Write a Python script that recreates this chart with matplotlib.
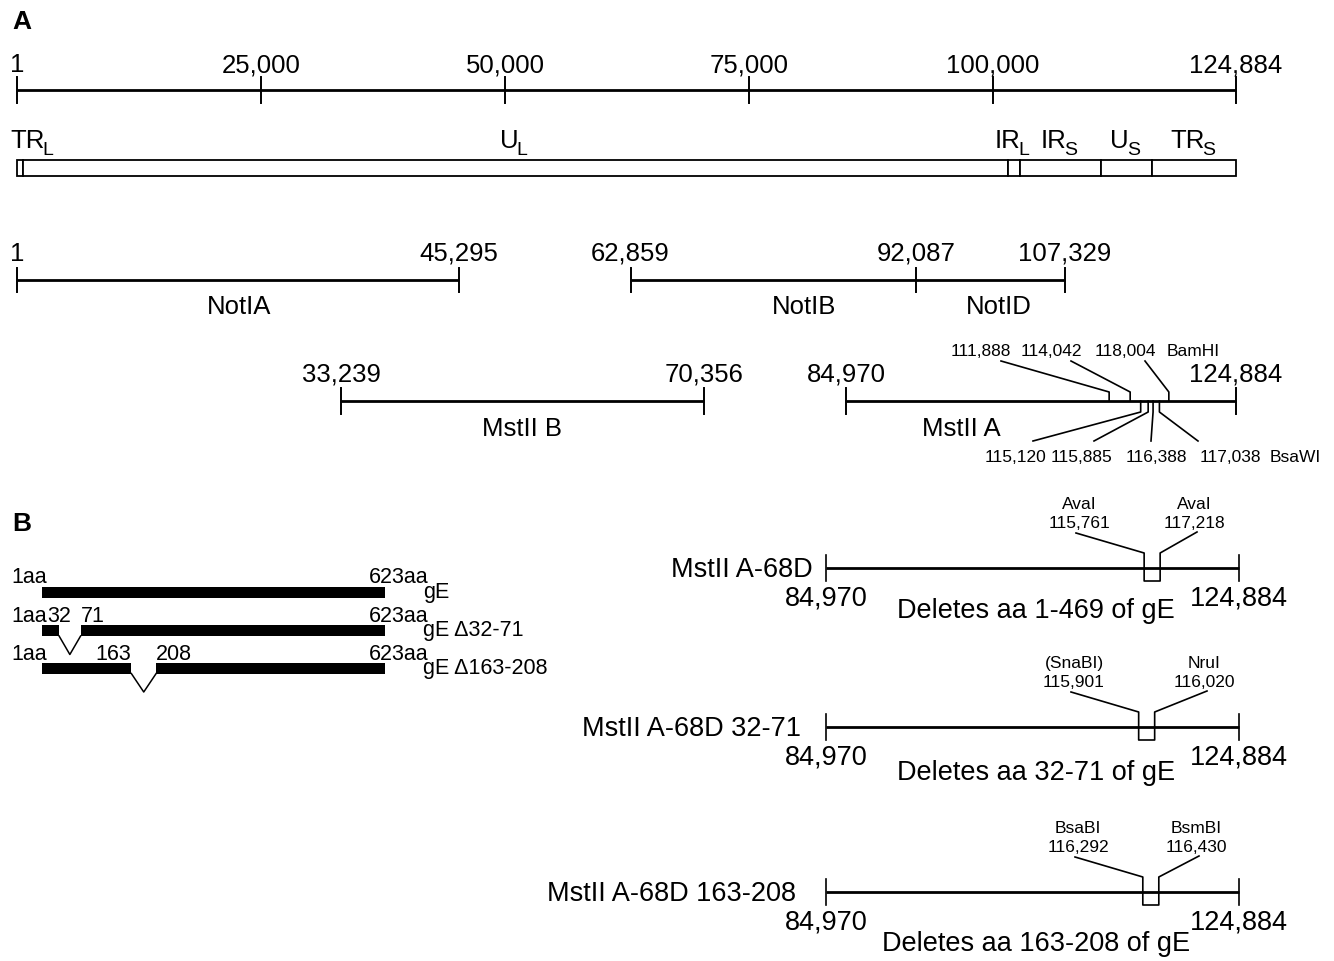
import matplotlib
matplotlib.use("Agg")
import matplotlib.pyplot as plt
from matplotlib import font_manager
from matplotlib.patches import Rectangle

plt.rcParams['font.family'] = ['Liberation Sans', 'DejaVu Sans']

# condensed face for the small site labels if one is installed
_names = {f.name for f in font_manager.fontManager.ttflist}
if 'Liberation Sans Narrow' in _names:
    SITE_FONT, SITE_FS = ['Liberation Sans Narrow', 'Liberation Sans'], 14.4
else:
    SITE_FONT, SITE_FS = ['Liberation Sans', 'DejaVu Sans'], 12.5

W, H = 1334, 962

# ---- panel A: genome map
ruler_ticks = [1, 25000, 50000, 75000, 100000, 124884]
region_names = ['TR', 'U', 'IR', 'IR', 'U', 'TR']
region_subs = ['L', 'L', 'L', 'S', 'S', 'S']
region_edges = [1, 650, 101560, 102760, 111030, 116320, 124884]

noti_names = ['NotIA', 'NotIB', 'NotID']
noti_start = [1, 62859, 92087]
noti_end = [45295, 92087, 107329]

mstii_names = ['MstII B', 'MstII A']
mstii_start = [33239, 84970]
mstii_end = [70356, 124884]

bamhi_sites = [111888, 114042, 118004]
bsawi_sites = [115120, 115885, 116388, 117038]

# ---- panel B: gE constructs
ge_names = ['gE', 'gE \u039432-71', 'gE \u0394163-208']
ge_len = 623
ge_del = [None, (32, 71), (163, 208)]

mut_names = ['MstII A-68D', 'MstII A-68D 32-71', 'MstII A-68D 163-208']
mut_start = 84970
mut_end = 124884
mut_enz_left = ['AvaI', '(SnaBI)', 'BsaBI']
mut_site_left = [115761, 115901, 116292]
mut_enz_right = ['AvaI', 'NruI', 'BsmBI']
mut_site_right = [117218, 116020, 116430]
mut_aa = ['1-469', '32-71', '163-208']

fig = plt.figure(figsize=(W / 100, H / 100), dpi=100)


def layer(v0, v1, p0, p1):
    # full-figure axes; x in data units mapped v0->p0 px, v1->p1 px; y in px from top
    ax = fig.add_axes([0, 0, 1, 1])
    s = (p1 - p0) / (v1 - v0)
    ax.set_xlim(v0 - p0 / s, v0 + (W - p0) / s)
    ax.set_ylim(H, 0)
    ax.axis('off')
    return ax


def dx(ax, px):
    x0, x1 = ax.get_xlim()
    return x0 + (x1 - x0) * px / W


def pxof(ax, v):
    x0, x1 = ax.get_xlim()
    return (v - x0) / (x1 - x0) * W


ax0 = layer(0, W, 0, W)
axA = layer(1, 124884, 17, 1236)
axB = layer(mut_start, mut_end, 826, 1239)
axP = layer(1, ge_len, 42, 385)

k = 'black'
ax0.text(12, 29, 'A', fontsize=19, fontweight='bold', va='baseline')
ax0.text(12, 531, 'B', fontsize=19, fontweight='bold', va='baseline')

# ruler
axA.plot([ruler_ticks[0], ruler_ticks[-1]], [91, 91], color=k, lw=2.0, solid_capstyle='butt')
for t in ruler_ticks:
    axA.plot([t, t], [78, 104], color=k, lw=1.4)
    axA.text(t, 72, f'{t:,}', ha='center', va='baseline', fontsize=18.5)

# genome regions
for i, name in enumerate(region_names):
    e0, e1 = region_edges[i], region_edges[i + 1]
    axA.add_patch(Rectangle((e0, 161), e1 - e0, 16, fc='white', ec=k, lw=1.3))
    if i == 0:
        t = ax0.text(10, 148, name, ha='left', va='baseline', fontsize=18.5)
    else:
        cx = pxof(axA, (e0 + e1) / 2) - 7
        t = ax0.text(cx, 148, name, ha='center', va='baseline', fontsize=18.5)
    ax0.annotate(region_subs[i], xy=(1, 0), xycoords=t, xytext=(-2, -2),
                 textcoords='offset pixels', ha='left', va='baseline', fontsize=14)

# NotI fragments
noti_y = 281
noti_lab_x = [239, 804, 999]
for i, name in enumerate(noti_names):
    axA.plot([noti_start[i], noti_end[i]], [noti_y, noti_y], color=k, lw=2.0, solid_capstyle='butt')
    ax0.text(noti_lab_x[i], noti_y + 33, name, ha='center', va='baseline', fontsize=18.5)
for t in sorted(set(noti_start + noti_end)):
    axA.plot([t, t], [noti_y - 12, noti_y + 12], color=k, lw=1.4)
    axA.text(t, noti_y - 20, f'{t:,}', ha='center', va='baseline', fontsize=18.5)

# MstII fragments
ms_y = 402
ms_lab_x = [522, 961]
for i, name in enumerate(mstii_names):
    axA.plot([mstii_start[i], mstii_end[i]], [ms_y, ms_y], color=k, lw=2.0, solid_capstyle='butt')
    ax0.text(ms_lab_x[i], ms_y + 34, name, ha='center', va='baseline', fontsize=18.5)
for t in mstii_start + mstii_end:
    axA.plot([t, t], [ms_y - 13, ms_y + 13], color=k, lw=1.4)
    axA.text(t, ms_y - 20, f'{t:,}', ha='center', va='baseline', fontsize=18.5)

# BamHI sites (above) and BsaWI sites (below)
top_lab_x = [981, 1051, 1125]
for s, lx in zip(bamhi_sites, top_lab_x):
    axA.plot([dx(axA, lx + 20), s, s], [362, 393, ms_y], color=k, lw=1.2)
    ax0.text(lx, 356, f'{s:,}', ha='center', va='baseline', fontsize=SITE_FS, family=SITE_FONT)
ax0.text(1167, 356, 'BamHI', ha='left', va='baseline', fontsize=SITE_FS, family=SITE_FONT)

bot_lab_x = [1015, 1082, 1156, 1230]
bot_end_x = [1033, 1094, 1151, 1198]
for s, lx, ex in zip(bsawi_sites, bot_lab_x, bot_end_x):
    axA.plot([s, s, dx(axA, ex)], [ms_y, 413, 442], color=k, lw=1.2)
    ax0.text(lx, 462, f'{s:,}', ha='center', va='baseline', fontsize=SITE_FS, family=SITE_FONT)
ax0.text(1270, 462, 'BsaWI', ha='left', va='baseline', fontsize=SITE_FS, family=SITE_FONT)

# ---- panel B left: gE protein
ge_y = [593.5, 631.5, 669]
ge_lab_base = [583, 622, 660]
del_ha = [None, ('center', 'left'), ('right', 'left')]
for i, name in enumerate(ge_names):
    y = ge_y[i]
    d = ge_del[i]
    segs = [(1, ge_len)] if d is None else [(1, d[0]), (d[1], ge_len)]
    axP.broken_barh([(a, b - a) for a, b in segs], (y - 5.5, 11), facecolors=k)
    if d is not None:
        axP.plot([d[0], (d[0] + d[1]) / 2, d[1]], [y + 5.5, y + 24, y + 5.5], color=k, lw=1.1)
        axP.text(d[0], ge_lab_base[i], str(d[0]), ha=del_ha[i][0], va='baseline', fontsize=15.5)
        axP.text(d[1], ge_lab_base[i], str(d[1]), ha=del_ha[i][1], va='baseline', fontsize=15.5)
    ax0.text(11, ge_lab_base[i], '1aa', ha='left', va='baseline', fontsize=15.5)
    ax0.text(428, ge_lab_base[i], f'{ge_len}aa', ha='right', va='baseline', fontsize=15.5)
    ax0.text(423, y + 5, name, ha='left', va='baseline', fontsize=15.5)

# ---- panel B right: MstII A-68D constructs
mut_y = [569, 728, 893]
mut_name_x = [813, 801, 796]
del_dy = [49, 52, 58]
lab_lx = [1079, 1074, 1078]
lab_rx = [1194, 1204, 1196]
x0, x1 = axB.get_xlim()
bp_per_px = (x1 - x0) / W
for i, name in enumerate(mut_names):
    y = mut_y[i]
    axB.plot([mut_start, mut_end], [y, y], color=k, lw=2.0, solid_capstyle='butt')
    for t in (mut_start, mut_end):
        axB.plot([t, t], [y - 13, y + 13], color=k, lw=1.2)
    axB.text(mut_start, y + 37, f'{mut_start:,}', ha='center', va='baseline', fontsize=19.5)
    axB.text(mut_end, y + 37, f'{mut_end:,}', ha='center', va='baseline', fontsize=19.5)
    ax0.text(mut_name_x[i], y + 8, name, ha='right', va='baseline', fontsize=19.5)
    ax0.text(1036, y + del_dy[i], f'Deletes aa {mut_aa[i]} of gE', ha='center', va='baseline', fontsize=19.5)

    lo, hi = mut_site_left[i], mut_site_right[i]
    mid = (lo + hi) / 2
    half = max((hi - lo) / 2, 8 * bp_per_px)
    bl, br = mid - half, mid + half
    axB.plot([dx(axB, lab_lx[i] - 3), bl, bl, br, br, dx(axB, lab_rx[i] + 3)],
             [y - 35, y - 15, y + 13, y + 13, y - 15, y - 36], color=k, lw=1.2)
    for lx, enz, pos in ((lab_lx[i], mut_enz_left[i], lo), (lab_rx[i], mut_enz_right[i], hi)):
        ax0.text(lx, y - 60, enz, ha='center', va='baseline', fontsize=SITE_FS, family=SITE_FONT)
        ax0.text(lx, y - 41, f'{pos:,}', ha='center', va='baseline', fontsize=SITE_FS, family=SITE_FONT)

fig.savefig('out.png', dpi=100)
